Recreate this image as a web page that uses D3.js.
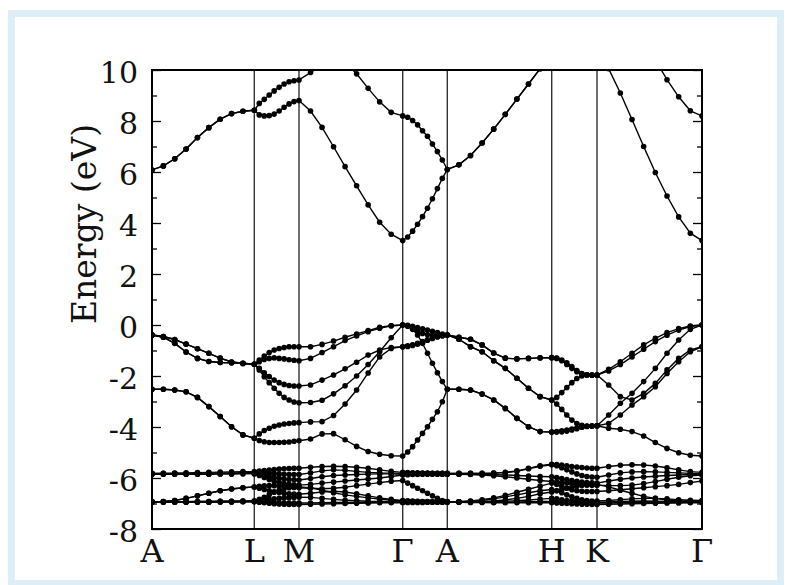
<!DOCTYPE html>
<html>
<head>
<meta charset="utf-8">
<script src="https://cdn.jsdelivr.net/npm/d3@7"></script>
<style>
  body { margin: 0; background: #fff; }
  svg text { font-family: 'DejaVu Serif', serif; fill: #111; }
</style>
</head>
<body>
<div id="chart-container"></div>
<script>
// high symmetry points along the k path
const kLabels = ["A", "L", "M", "Γ", "A", "H", "K", "Γ"];
const kPoints = [0, 102.3, 147, 250.7, 295.3, 399.7, 445, 550];
const yMajorTicks = [-8, -6, -4, -2, 0, 2, 4, 6, 8, 10];
const yMinorTicks = [-7, -5, -3, -1, 1, 3, 5, 7, 9];
const samplesPerSegment = 9;

// each band: A-L (10 values), then 9 values per segment L-M, M-Γ, Γ-A, A-H, H-K, K-Γ
const valence1 = [
  -0.39, -0.45, -0.57, -0.75, -0.93, -1.11, -1.30, -1.45, -1.50, -1.54,
  -1.37, -1.22, -1.08, -0.98, -0.92, -0.88, -0.85, -0.85, -0.85,
  -0.85, -0.76, -0.63, -0.48, -0.35, -0.22, -0.09, -0.03, 0,
  -0.01, -0.05, -0.10, -0.15, -0.20, -0.25, -0.30, -0.35, -0.39,
  -0.48, -0.56, -0.78, -1.10, -1.30, -1.33, -1.31, -1.29, -1.28,
  -1.30, -1.37, -1.48, -1.63, -1.79, -1.90, -1.95, -1.96, -1.96,
  -1.74, -1.44, -1.11, -0.78, -0.52, -0.30, -0.14, -0.04, 0
];
const valence2 = [
  -0.39, -0.48, -0.72, -1.06, -1.31, -1.43, -1.47, -1.48, -1.51, -1.54,
  -1.44, -1.35, -1.31, -1.29, -1.31, -1.33, -1.36, -1.38, -1.40,
  -1.31, -1.08, -0.85, -0.61, -0.43, -0.26, -0.13, -0.03, 0,
  -0.05, -0.15, -0.25, -0.33, -0.38, -0.40, -0.40, -0.40, -0.39,
  -0.48, -0.56, -0.78, -1.10, -1.30, -1.33, -1.31, -1.29, -1.28,
  -1.31, -1.40, -1.55, -1.70, -1.83, -1.92, -1.96, -1.97, -1.96,
  -1.80, -1.55, -1.25, -0.95, -0.65, -0.40, -0.20, -0.06, 0
];
const valence3 = [
  -0.39, -0.45, -0.57, -0.75, -0.93, -1.11, -1.30, -1.45, -1.50, -1.54,
  -1.70, -1.87, -2.02, -2.16, -2.26, -2.33, -2.37, -2.39, -2.39,
  -2.35, -2.16, -1.96, -1.72, -1.46, -1.18, -0.98, -0.88, -0.85,
  -0.82, -0.78, -0.72, -0.65, -0.58, -0.52, -0.46, -0.42, -0.39,
  -0.56, -0.85, -1.05, -1.40, -1.70, -2.09, -2.48, -2.81, -2.94,
  -2.84, -2.65, -2.45, -2.26, -2.10, -2.00, -1.96, -1.96, -1.96,
  -2.35, -2.81, -2.94, -2.68, -2.29, -1.76, -1.31, -0.98, -0.85
];
const valence4 = [
  -0.39, -0.48, -0.72, -1.06, -1.31, -1.43, -1.47, -1.48, -1.51, -1.54,
  -1.76, -2.03, -2.26, -2.48, -2.68, -2.84, -2.94, -3.02, -3.05,
  -3.04, -2.95, -2.70, -2.38, -2.00, -1.55, -1.05, -0.50, 0,
  -0.04, -0.17, -0.39, -0.72, -1.11, -1.50, -1.87, -2.22, -2.52,
  -2.52, -2.55, -2.71, -2.94, -3.27, -3.66, -3.99, -4.18, -4.20,
  -4.20, -4.19, -4.16, -4.12, -4.07, -4.01, -3.98, -3.96, -3.95,
  -3.53, -3.07, -2.68, -2.22, -1.70, -1.11, -0.59, -0.17, 0
];
const valence5 = [
  -2.52, -2.52, -2.55, -2.62, -2.84, -3.20, -3.59, -3.99, -4.31, -4.44,
  -4.27, -4.14, -4.05, -3.97, -3.92, -3.88, -3.86, -3.84, -3.83,
  -3.80, -3.79, -3.55, -3.10, -2.55, -1.88, -1.25, -0.92, -0.85,
  -0.84, -0.80, -0.75, -0.68, -0.60, -0.53, -0.47, -0.42, -0.39,
  -0.56, -0.85, -1.05, -1.40, -1.70, -2.09, -2.48, -2.81, -2.94,
  -3.10, -3.31, -3.53, -3.73, -3.86, -3.93, -3.96, -3.96, -3.95,
  -3.86, -3.53, -3.14, -2.81, -2.42, -1.90, -1.44, -1.05, -0.85
];
const valence6 = [
  -2.52, -2.52, -2.55, -2.62, -2.84, -3.20, -3.59, -3.99, -4.31, -4.44,
  -4.53, -4.58, -4.61, -4.61, -4.61, -4.60, -4.59, -4.56, -4.54,
  -4.47, -4.27, -4.26, -4.50, -4.76, -4.96, -5.07, -5.13, -5.14,
  -4.98, -4.77, -4.51, -4.25, -3.99, -3.70, -3.40, -3.01, -2.52,
  -2.52, -2.55, -2.71, -2.94, -3.27, -3.66, -3.99, -4.18, -4.20,
  -4.18, -4.15, -4.12, -4.08, -4.04, -4.00, -3.97, -3.96, -3.95,
  -4.05, -4.09, -4.18, -4.35, -4.61, -4.84, -5.01, -5.11, -5.14
];

// d bands
const dBand1 = [
  -5.82, -5.82, -5.81, -5.80, -5.79, -5.78, -5.77, -5.76, -5.75, -5.75,
  -5.73, -5.71, -5.69, -5.67, -5.65, -5.64, -5.63, -5.62, -5.62,
  -5.58, -5.55, -5.54, -5.55, -5.58, -5.62, -5.68, -5.74, -5.78,
  -5.79, -5.80, -5.80, -5.81, -5.81, -5.82, -5.82, -5.82, -5.82,
  -5.82, -5.82, -5.82, -5.81, -5.78, -5.72, -5.62, -5.52, -5.46,
  -5.47, -5.49, -5.52, -5.55, -5.57, -5.59, -5.61, -5.62, -5.62,
  -5.55, -5.50, -5.48, -5.49, -5.53, -5.60, -5.68, -5.75, -5.78
];
const dBand2 = [
  -5.82, -5.82, -5.82, -5.82, -5.81, -5.81, -5.80, -5.80, -5.79, -5.79,
  -5.80, -5.81, -5.82, -5.83, -5.84, -5.85, -5.86, -5.86, -5.86,
  -5.80, -5.72, -5.68, -5.70, -5.74, -5.78, -5.80, -5.81, -5.82,
  -5.82, -5.82, -5.82, -5.82, -5.82, -5.82, -5.82, -5.82, -5.82,
  -5.82, -5.82, -5.82, -5.81, -5.79, -5.74, -5.64, -5.54, -5.48,
  -5.52, -5.60, -5.68, -5.76, -5.84, -5.90, -5.94, -5.96, -5.97,
  -5.88, -5.80, -5.76, -5.75, -5.76, -5.78, -5.80, -5.82, -5.83
];
const dBand3 = [
  -5.85, -5.85, -5.85, -5.85, -5.85, -5.85, -5.84, -5.84, -5.83, -5.83,
  -5.86, -5.90, -5.94, -5.98, -6.01, -6.04, -6.06, -6.07, -6.08,
  -6.02, -5.95, -5.90, -5.88, -5.86, -5.85, -5.84, -5.84, -5.85,
  -5.85, -5.85, -5.84, -5.84, -5.84, -5.84, -5.84, -5.85, -5.85,
  -5.85, -5.85, -5.86, -5.87, -5.88, -5.90, -5.92, -5.94, -5.95,
  -5.98, -6.02, -6.06, -6.10, -6.13, -6.16, -6.18, -6.19, -6.20,
  -6.12, -6.05, -6.00, -5.96, -5.93, -5.90, -5.88, -5.86, -5.85
];
const dBand4 = [
  -5.85, -5.85, -5.85, -5.85, -5.85, -5.85, -5.84, -5.84, -5.83, -5.83,
  -5.90, -5.98, -6.06, -6.13, -6.18, -6.22, -6.25, -6.27, -6.28,
  -6.25, -6.20, -6.16, -6.12, -6.08, -6.04, -6.00, -5.94, -5.88,
  -5.87, -5.86, -5.86, -5.85, -5.85, -5.85, -5.85, -5.85, -5.85,
  -5.85, -5.86, -5.88, -5.91, -5.95, -6.00, -6.05, -6.10, -6.14,
  -6.16, -6.18, -6.20, -6.22, -6.24, -6.26, -6.27, -6.28, -6.28,
  -6.30, -6.30, -6.28, -6.22, -6.14, -6.05, -5.97, -5.91, -5.88
];
const dBand5 = [
  -6.93, -6.92, -6.88, -6.80, -6.70, -6.60, -6.50, -6.43, -6.38, -6.35,
  -6.33, -6.31, -6.30, -6.30, -6.31, -6.33, -6.35, -6.37, -6.38,
  -6.40, -6.42, -6.40, -6.36, -6.30, -6.24, -6.18, -6.13, -6.10,
  -6.20, -6.30, -6.40, -6.50, -6.60, -6.70, -6.80, -6.88, -6.93,
  -6.93, -6.90, -6.85, -6.78, -6.68, -6.56, -6.44, -6.32, -6.20,
  -6.25, -6.32, -6.40, -6.46, -6.50, -6.52, -6.53, -6.53, -6.53,
  -6.50, -6.46, -6.42, -6.38, -6.34, -6.30, -6.25, -6.18, -6.12
];
const dBand6 = [
  -6.93, -6.92, -6.88, -6.80, -6.70, -6.60, -6.50, -6.43, -6.38, -6.35,
  -6.40, -6.45, -6.50, -6.54, -6.57, -6.60, -6.62, -6.63, -6.64,
  -6.60, -6.55, -6.52, -6.55, -6.62, -6.70, -6.78, -6.84, -6.88,
  -6.89, -6.90, -6.91, -6.92, -6.92, -6.93, -6.93, -6.93, -6.93,
  -6.93, -6.91, -6.88, -6.82, -6.74, -6.66, -6.58, -6.50, -6.45,
  -6.50, -6.58, -6.66, -6.74, -6.80, -6.85, -6.88, -6.90, -6.90,
  -6.88, -6.85, -6.82, -6.80, -6.80, -6.82, -6.85, -6.87, -6.88
];
const dBand7 = [
  -6.93, -6.93, -6.93, -6.93, -6.92, -6.92, -6.91, -6.91, -6.90, -6.90,
  -6.84, -6.76, -6.66, -6.56, -6.48, -6.42, -6.38, -6.36, -6.35,
  -6.38, -6.48, -6.58, -6.66, -6.72, -6.78, -6.83, -6.87, -6.90,
  -6.91, -6.92, -6.92, -6.93, -6.93, -6.93, -6.93, -6.93, -6.93,
  -6.93, -6.93, -6.92, -6.90, -6.86, -6.80, -6.72, -6.62, -6.55,
  -6.50, -6.45, -6.40, -6.36, -6.32, -6.29, -6.27, -6.26, -6.26,
  -6.35, -6.48, -6.60, -6.72, -6.80, -6.86, -6.89, -6.90, -6.90
];
const dBand8 = [
  -6.93, -6.93, -6.93, -6.93, -6.92, -6.92, -6.91, -6.91, -6.90, -6.90,
  -6.88, -6.86, -6.84, -6.82, -6.80, -6.78, -6.77, -6.76, -6.75,
  -6.76, -6.80, -6.84, -6.87, -6.89, -6.91, -6.92, -6.93, -6.93,
  -6.93, -6.93, -6.93, -6.93, -6.93, -6.93, -6.93, -6.93, -6.93,
  -6.93, -6.93, -6.93, -6.92, -6.91, -6.89, -6.86, -6.83, -6.80,
  -6.82, -6.85, -6.88, -6.90, -6.92, -6.94, -6.95, -6.96, -6.96,
  -6.94, -6.92, -6.91, -6.90, -6.91, -6.92, -6.93, -6.93, -6.93
];
const dBand9 = [
  -6.95, -6.95, -6.95, -6.95, -6.95, -6.95, -6.94, -6.94, -6.93, -6.93,
  -6.94, -6.95, -6.96, -6.97, -6.97, -6.98, -6.98, -6.98, -6.98,
  -6.98, -6.97, -6.96, -6.96, -6.96, -6.96, -6.95, -6.95, -6.95,
  -6.95, -6.95, -6.95, -6.95, -6.95, -6.95, -6.95, -6.95, -6.95,
  -6.95, -6.95, -6.95, -6.95, -6.95, -6.94, -6.93, -6.92, -6.92,
  -6.93, -6.94, -6.95, -6.96, -6.97, -6.98, -6.98, -6.98, -6.98,
  -6.98, -6.97, -6.97, -6.96, -6.96, -6.96, -6.95, -6.95, -6.95
];
const dBand10 = [
  -6.95, -6.95, -6.95, -6.95, -6.95, -6.95, -6.94, -6.94, -6.93, -6.93,
  -6.95, -6.97, -6.99, -7.01, -7.02, -7.03, -7.04, -7.04, -7.04,
  -7.03, -7.02, -7.01, -7.00, -6.99, -6.98, -6.97, -6.97, -6.97,
  -6.96, -6.96, -6.96, -6.96, -6.95, -6.95, -6.95, -6.95, -6.95,
  -6.95, -6.96, -6.96, -6.97, -6.97, -6.97, -6.97, -6.97, -6.97,
  -6.98, -6.99, -7.00, -7.01, -7.02, -7.03, -7.03, -7.04, -7.04,
  -7.03, -7.02, -7.01, -7.00, -6.99, -6.98, -6.98, -6.97, -6.97
];

// conduction bands (values above 10 are clipped by the frame)
const conduction1 = [
  6.08, 6.24, 6.52, 6.90, 7.35, 7.74, 8.07, 8.29, 8.38, 8.42,
  8.24, 8.20, 8.21, 8.27, 8.39, 8.54, 8.67, 8.76, 8.80,
  8.39, 7.75, 6.99, 6.21, 5.46, 4.71, 4.03, 3.56, 3.31,
  3.45, 3.68, 3.95, 4.25, 4.58, 4.95, 5.35, 5.75, 6.10,
  6.28, 6.65, 7.14, 7.68, 8.26, 8.86, 9.45, 10.05, 10.60,
  10.75, 10.90, 11.00, 11.05, 11.05, 11.05, 11.00, 11.00, 11.00,
  10.05, 9.10, 8.06, 7.00, 5.98, 5.06, 4.24, 3.60, 3.31
];
const conduction2 = [
  6.08, 6.24, 6.52, 6.90, 7.35, 7.74, 8.07, 8.29, 8.38, 8.42,
  8.69, 8.85, 9.02, 9.18, 9.32, 9.45, 9.54, 9.58, 9.61,
  9.90, 10.20, 10.35, 10.30, 9.85, 9.28, 8.75, 8.34, 8.20,
  8.15, 8.02, 7.85, 7.62, 7.40, 7.10, 6.80, 6.47, 6.10,
  6.28, 6.65, 7.14, 7.68, 8.26, 8.86, 9.45, 10.05, 10.60,
  11.00, 11.40, 11.80, 12.20, 12.60, 12.90, 13.20, 13.40, 13.60,
  13.00, 12.40, 11.80, 11.10, 10.40, 9.62, 8.95, 8.40, 8.20
];

const bands = [valence1, valence2, valence3, valence4, valence5, valence6,
  dBand1, dBand2, dBand3, dBand4, dBand5, dBand6, dBand7, dBand8, dBand9, dBand10,
  conduction1, conduction2];

// k value of every sample: each segment is cut in equal steps
const kGrid = [kPoints[0]];
for (let s = 0; s < kPoints.length - 1; s++) {
  for (let i = 1; i <= samplesPerSegment; i++) {
    kGrid.push(kPoints[s] + (kPoints[s + 1] - kPoints[s]) * i / samplesPerSegment);
  }
}

const margin = {top: 70, right: 90, bottom: 56, left: 152},
    width = 792 - margin.left - margin.right,
    height = 585 - margin.top - margin.bottom;

const svgRoot = d3.select("#chart-container")
  .append("svg")
  .attr("width", 792)
  .attr("height", 585);

// light blue panel border
svgRoot.append("rect")
  .attr("x", 11.5).attr("y", 13.5)
  .attr("width", 769).attr("height", 570)
  .attr("fill", "none")
  .attr("stroke", "#ddeef6")
  .attr("stroke-width", 7);

const svg = svgRoot.append("g")
  .attr("transform", `translate(${margin.left},${margin.top})`);

const x = d3.scaleLinear().domain([kPoints[0], kPoints[kPoints.length - 1]]).range([0, width]);
const y = d3.scaleLinear().domain([-8, 10]).range([height, 0]);

svg.append("clipPath").attr("id", "plot-clip")
  .append("rect").attr("width", width).attr("height", height);

// high symmetry vertical lines
svg.selectAll(".kline")
  .data(kPoints.slice(1, -1))
  .join("line")
  .attr("class", "kline")
  .attr("x1", d => x(d)).attr("x2", d => x(d))
  .attr("y1", 0).attr("y2", height)
  .attr("stroke", "#333")
  .attr("stroke-width", 1.4);

const plot = svg.append("g").attr("clip-path", "url(#plot-clip)");

const line = d3.line()
  .x((d, i) => x(kGrid[i]))
  .y(d => y(d));

plot.selectAll(".band")
  .data(bands)
  .join("path")
  .attr("class", "band")
  .attr("d", line)
  .attr("fill", "none")
  .attr("stroke", "#000")
  .attr("stroke-width", 1.4);

bands.forEach(band => {
  plot.append("g")
    .selectAll("circle")
    .data(band)
    .join("circle")
    .attr("cx", (d, i) => x(kGrid[i]))
    .attr("cy", d => y(d))
    .attr("r", 2.8)
    .attr("fill", "#000");
});

// y axis, ticks pointing inward
svg.append("g")
  .call(d3.axisLeft(y).tickValues(yMajorTicks).tickSize(-9).tickPadding(14).tickFormat(d => String(d)))
  .call(g => g.select(".domain").remove())
  .call(g => g.selectAll("text").style("font-size", "30px").attr("dy", "0.4em"));
svg.append("g")
  .call(d3.axisLeft(y).tickValues(yMinorTicks).tickSize(-5).tickFormat(""))
  .call(g => g.select(".domain").remove());
svg.append("g")
  .attr("transform", `translate(${width},0)`)
  .call(d3.axisRight(y).tickValues(yMajorTicks).tickSize(-9).tickFormat(""))
  .call(g => g.select(".domain").remove());
svg.append("g")
  .attr("transform", `translate(${width},0)`)
  .call(d3.axisRight(y).tickValues(yMinorTicks).tickSize(-5).tickFormat(""))
  .call(g => g.select(".domain").remove());
svg.selectAll(".tick line").attr("stroke", "#000").attr("stroke-width", 1.3);

// frame
svg.append("rect")
  .attr("width", width).attr("height", height)
  .attr("fill", "none")
  .attr("stroke", "#000")
  .attr("stroke-width", 2);

// k labels
svg.selectAll(".klabel")
  .data(kPoints)
  .join("text")
  .attr("class", "klabel")
  .attr("x", d => x(d))
  .attr("y", height + 33)
  .attr("text-anchor", "middle")
  .style("font-size", "32px")
  .text((d, i) => kLabels[i]);

svg.append("text")
  .attr("transform", `translate(${96 - margin.left},${224 - margin.top}) rotate(-90)`)
  .attr("text-anchor", "middle")
  .style("font-size", "33px")
  .text("Energy (eV)");
</script>
</body>
</html>
